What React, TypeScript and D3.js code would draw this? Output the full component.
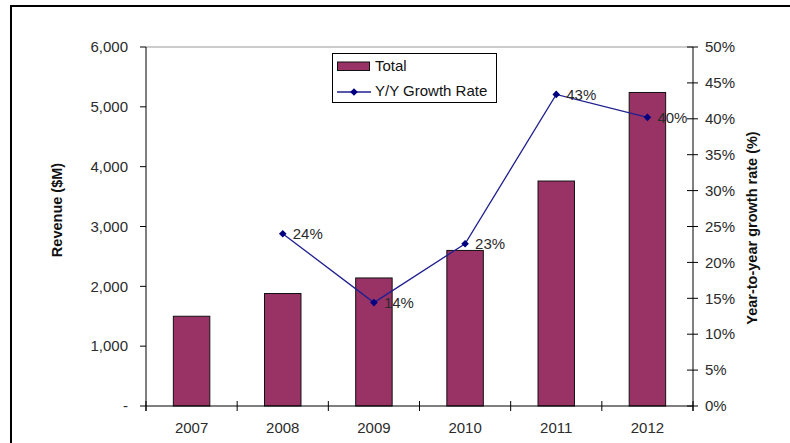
import React from "react";
import * as d3 from "d3";

const years = ["2007", "2008", "2009", "2010", "2011", "2012"];
const revenue = [1500, 1880, 2140, 2600, 3760, 5240];
const growth: (number | null)[] = [null, 24.0, 14.4, 22.6, 43.4, 40.2];
const growthLabels = ["", "24%", "14%", "23%", "43%", "40%"];
const leftTicks = [0, 1000, 2000, 3000, 4000, 5000, 6000];
const rightTicks = [0, 5, 10, 15, 20, 25, 30, 35, 40, 45, 50];

const W = 790, H = 443;
const L = 146, R = 693, T = 47, B = 406;
const FONT = "'Liberation Sans', Arial, Helvetica, sans-serif";
const BAR = "#993366";
const NAVY = "#000080";
const TXT = "#2b2b2b";

export default function App() {
  const x = d3.scaleBand<string>().domain(years).range([L, R]).paddingInner(0.6).paddingOuter(0.3);
  const y = d3.scaleLinear().domain([0, 6000]).range([B, T]);
  const y2 = d3.scaleLinear().domain([0, 50]).range([B, T]);
  const fmt = d3.format(",");
  const pts = years
    .map((yr, i) => ({ yr, v: growth[i], lab: growthLabels[i] }))
    .filter((d) => d.v !== null) as { yr: string; v: number; lab: string }[];
  const line = d3
    .line<{ yr: string; v: number }>()
    .x((d) => (x(d.yr) as number) + x.bandwidth() / 2)
    .y((d) => y2(d.v));
  const step = x.step();
  const boundaries = d3.range(years.length + 1).map((i) => L + i * step);
  const diamond = (cx: number, cy: number, r = 3.8) =>
    `M${cx},${cy - r}L${cx + r},${cy}L${cx},${cy + r}L${cx - r},${cy}Z`;

  return (
    <svg width={W} height={H} style={{ position: "absolute", left: 0, top: 0 }} fontFamily={FONT}>
      <rect x={0} y={0} width={W} height={H} fill="#fff" />
      {/* frame */}
      <rect x={11} y={6} width={W + 20} height={H + 20} fill="none" stroke="#000" strokeWidth={2} />
      {/* top gridline */}
      <line x1={L} x2={R} y1={T} y2={T} stroke="#999" strokeWidth={1} />
      {/* bars */}
      {years.map((yr, i) => (
        <rect
          key={yr}
          x={x(yr)}
          y={y(revenue[i])}
          width={x.bandwidth()}
          height={B - y(revenue[i])}
          fill={BAR}
          stroke="#111"
          strokeWidth={1}
        />
      ))}
      {/* axes */}
      <line x1={L} x2={L} y1={T} y2={B + 5} stroke="#000" strokeWidth={1} />
      <line x1={R} x2={R} y1={T} y2={B + 5} stroke="#000" strokeWidth={1} />
      <line x1={L} x2={R} y1={B} y2={B} stroke="#000" strokeWidth={1} />
      {leftTicks.map((t) => (
        <g key={t}>
          <line x1={L - 6} x2={L} y1={y(t)} y2={y(t)} stroke="#000" />
          <text x={L - 18} y={y(t)} dy="0.35em" textAnchor="end" fontSize={15} fill={TXT}>
            {t === 0 ? "-" : fmt(t)}
          </text>
        </g>
      ))}
      {rightTicks.map((t) => (
        <g key={t}>
          <line x1={R - 6} x2={R + 5} y1={y2(t)} y2={y2(t)} stroke="#000" />
          <text x={R + 12} y={y2(t)} dy="0.35em" textAnchor="start" fontSize={15} fill={TXT}>
            {t + "%"}
          </text>
        </g>
      ))}
      {boundaries.map((bx, i) => (
        <line key={i} x1={bx} x2={bx} y1={B - 5} y2={B + 5} stroke="#000" />
      ))}
      {years.map((yr) => (
        <text
          key={yr}
          x={(x(yr) as number) + x.bandwidth() / 2}
          y={433}
          textAnchor="middle"
          fontSize={15}
          fill={TXT}
        >
          {yr}
        </text>
      ))}
      {/* axis titles */}
      <text
        transform={`translate(62,210) rotate(-90)`}
        textAnchor="middle"
        fontSize={14.5}
        fontWeight="bold"
        fill="#111"
      >
        Revenue ($M)
      </text>
      <text
        transform={`translate(757,228) rotate(-90)`}
        textAnchor="middle"
        fontSize={14.5}
        fontWeight="bold"
        fill="#111"
      >
        Year-to-year growth rate (%)
      </text>
      {/* growth line */}
      <path d={line(pts) || ""} fill="none" stroke="#1f1f8f" strokeWidth={1.3} />
      {pts.map((d) => {
        const cx = (x(d.yr) as number) + x.bandwidth() / 2;
        const cy = y2(d.v);
        return (
          <g key={d.yr}>
            <path d={diamond(cx, cy)} fill={NAVY} />
            <text x={cx + 10} y={cy} dy="0.35em" fontSize={15} fill={TXT}>
              {d.lab}
            </text>
          </g>
        );
      })}
      {/* legend */}
      <rect x={332.5} y={53.5} width={164} height={49} fill="#fff" stroke="#000" strokeWidth={1} />
      <rect x={337.5} y={62} width={32} height={8.5} fill={BAR} stroke="#111" strokeWidth={1} />
      <text x={375} y={66} dy="0.35em" fontSize={15} fill="#111">
        Total
      </text>
      <line x1={337} x2={371} y1={92} y2={92} stroke="#1f1f8f" strokeWidth={1.3} />
      <path d={diamond(354, 92)} fill={NAVY} />
      <text x={375} y={90.5} dy="0.35em" fontSize={15} fill="#111">
        Y/Y Growth Rate
      </text>
    </svg>
  );
}
